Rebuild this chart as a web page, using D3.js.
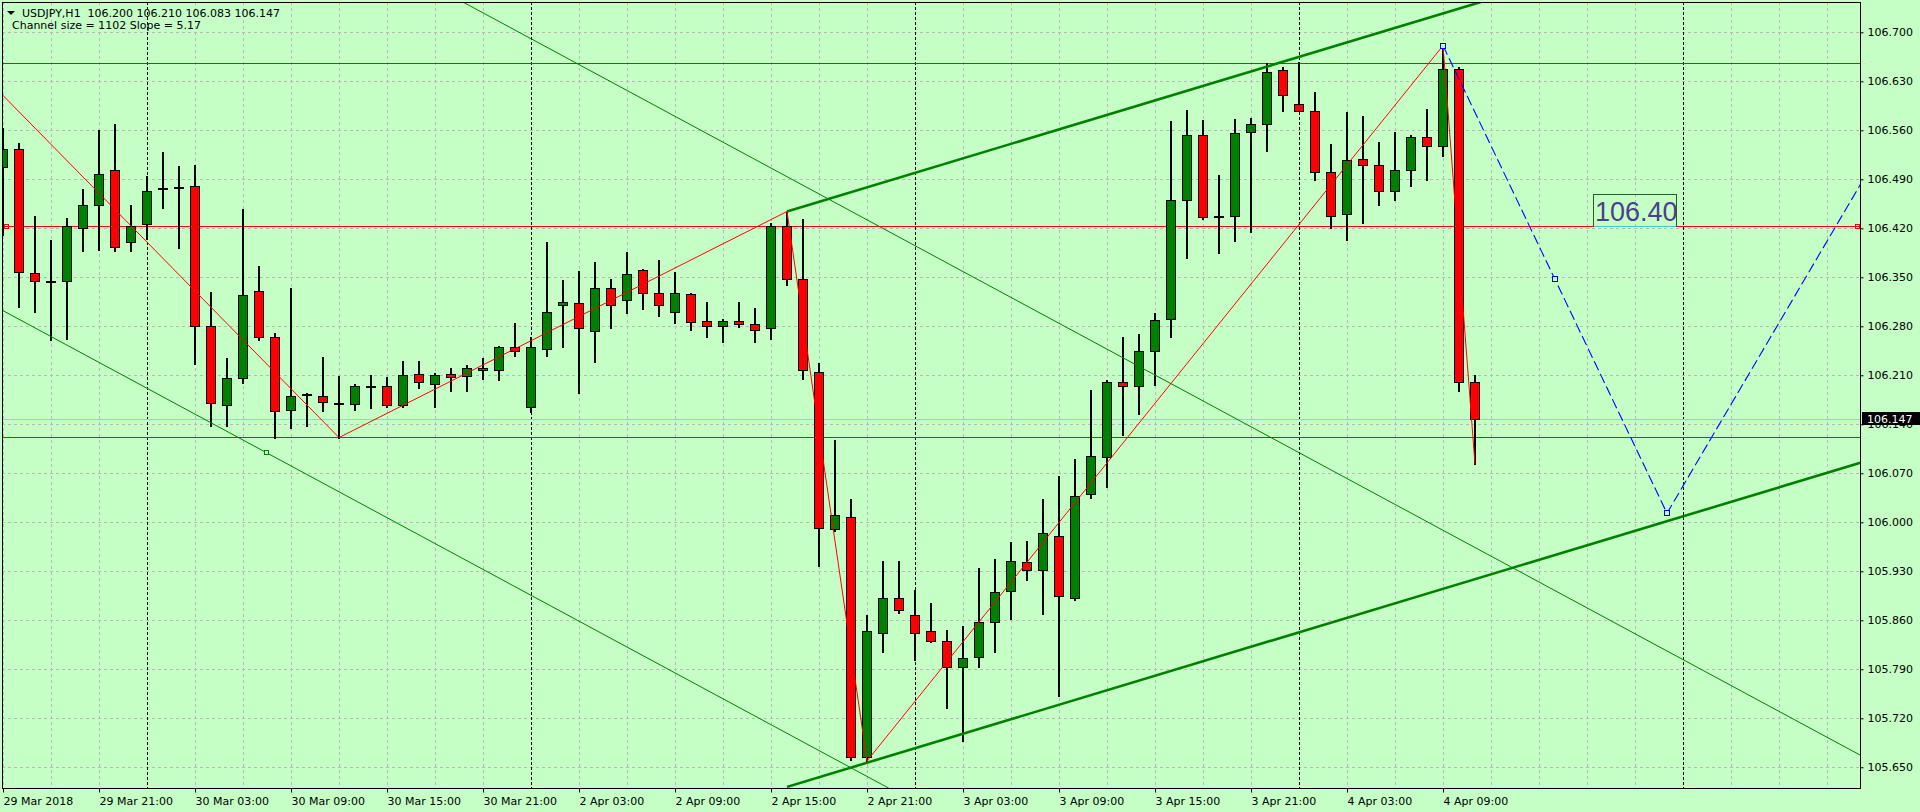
<!DOCTYPE html>
<html>
<head>
<meta charset="utf-8">
<script src="https://cdn.jsdelivr.net/npm/d3@7/dist/d3.min.js"></script>
<style>
  html, body { margin: 0; padding: 0; background: #c5ffc5; overflow: hidden; }
  svg { display: block; }
</style>
</head>
<body>
<div id="chart"></div>
<script>
// USDJPY H1 candles, bar 0 = 29 Mar 15:00, one bar per hour
var opens = [106.507,106.534,106.356,106.345,106.344,106.420,106.454,106.504,106.401,106.426,
  106.477,106.478,106.481,106.280,106.167,106.206,106.331,106.264,106.161,106.182,
  106.180,106.170,106.169,106.194,106.194,106.167,106.212,106.197,106.212,106.209,
  106.220,106.217,106.250,106.164,106.247,106.311,106.313,106.273,106.334,106.317,
  106.360,106.327,106.300,106.326,106.287,106.280,106.287,106.283,106.277,106.424,
  106.347,106.214,105.990,106.008,105.664,105.842,105.892,105.868,105.845,105.831,
  105.793,105.807,105.858,105.902,105.943,105.932,105.981,105.892,106.040,106.093,
  106.200,106.194,106.244,106.291,106.460,106.553,106.437,106.437,106.557,106.569,
  106.646,106.597,106.587,106.501,106.441,106.519,106.510,106.474,106.504,106.551,
  106.537,106.647,106.200];
var highs = [106.563,106.542,106.438,106.403,106.435,106.476,106.560,106.569,106.453,106.495,
  106.529,106.509,106.510,106.329,106.234,106.448,106.366,106.270,106.334,106.184,
  106.236,106.209,106.197,106.210,106.208,106.230,106.230,106.213,106.220,106.224,
  106.235,106.252,106.285,106.265,106.401,106.346,106.359,106.372,106.348,106.386,
  106.362,106.375,106.358,106.327,106.315,106.291,106.315,106.306,106.427,106.444,
  106.434,106.228,106.118,106.033,105.868,105.945,105.945,105.903,105.884,105.846,
  105.852,105.935,105.947,105.972,105.973,106.033,106.066,106.090,106.189,106.203,
  106.264,106.269,106.299,106.573,106.589,106.575,106.496,106.576,106.578,106.656,
  106.650,106.657,106.615,106.541,106.586,106.581,106.543,106.557,106.554,106.591,
  106.681,106.650,106.210];
var lows = [106.410,106.308,106.301,106.260,106.262,106.388,106.389,106.387,106.387,106.405,
  106.449,106.392,106.226,106.137,106.137,106.199,106.260,106.121,106.134,106.137,
  106.159,106.121,106.161,106.163,106.165,106.165,106.192,106.164,106.188,106.188,
  106.205,106.203,106.237,106.157,106.238,106.251,106.184,106.229,106.277,106.299,
  106.304,106.295,106.284,106.275,106.264,106.257,106.279,106.258,106.262,106.339,
  106.204,105.937,105.988,105.661,105.659,105.815,105.871,105.803,105.829,105.734,
  105.687,105.793,105.815,105.862,105.918,105.869,105.752,105.889,106.034,106.051,
  106.124,106.154,106.196,106.264,106.377,106.433,106.385,106.402,106.415,106.531,
  106.587,106.587,106.489,106.420,106.404,106.427,106.454,106.460,106.481,106.489,
  106.524,106.187,106.083];
var closes = [106.534,106.357,106.344,106.344,106.424,106.453,106.497,106.394,106.424,106.474,
  106.476,106.479,106.281,106.170,106.206,106.325,106.265,106.159,106.180,106.183,
  106.172,106.169,106.194,106.195,106.167,106.210,106.201,106.210,106.207,106.220,
  106.217,106.250,106.244,106.250,106.300,106.315,106.277,106.334,106.311,106.354,
  106.327,106.311,106.327,106.286,106.280,106.287,106.283,106.274,106.424,106.347,
  106.217,105.992,106.010,105.664,105.844,105.892,105.875,105.842,105.831,105.793,
  105.806,105.858,105.901,105.944,105.932,105.984,105.895,106.038,106.094,106.200,
  106.194,106.245,106.289,106.460,106.554,106.436,106.437,106.556,106.569,106.644,
  106.611,106.587,106.500,106.437,106.517,106.510,106.474,106.504,106.551,106.537,
  106.647,106.201,106.147];

// axis labels
var priceTicks = [105.650,105.720,105.790,105.860,105.930,106.000,106.070,106.140,
  106.210,106.280,106.350,106.420,106.490,106.560,106.630,106.700];
var timeLabels = ["29 Mar 2018","29 Mar 21:00","30 Mar 03:00","30 Mar 09:00","30 Mar 15:00",
  "30 Mar 21:00","2 Apr 03:00","2 Apr 09:00","2 Apr 15:00","2 Apr 21:00","3 Apr 03:00",
  "3 Apr 09:00","3 Apr 15:00","3 Apr 21:00","4 Apr 03:00","4 Apr 09:00"];
var dayStartBars = [9, 33, 57, 81, 105];

// objects drawn on the chart (bar index, price)
var hLevels = [106.656, 106.423, 106.122];
var zigzagBars = [-1, 21, 49, 54, 90, 92];
var zigzagPrices = [106.633, 106.121, 106.444, 105.659, 106.681, 106.083];
var projBars = [90, 97, 104, 117];
var projPrices = [106.681, 106.347, 106.013, 106.518];
var chanBars = [49, 130];
var chanUpper = [106.444, 107.003];
var chanLower = [105.622, 106.181];
var downBarsA = [20, 120];
var downPricesA = [106.851, 105.619];
var downBarsB = [-2, 60];
var downPricesB = [106.327, 105.563];
var markerB = [16.5, 106.099];
var lastPrice = 106.147;
var targetLabel = "106.40";

function drawChart() {
  var W = 1920, H = 812;
  var pLeft = 2, pRight = 1860, pTop = 2, pBottom = 788;
  var bg = "#c5ffc5";

  var svg = d3.select("#chart").append("svg")
      .attr("width", W)
      .attr("height", H)
      .style("font-family", "'DejaVu Sans', sans-serif");

  svg.append("rect").attr("width", W).attr("height", H).attr("fill", bg);

  var x = d3.scaleLinear().domain([-1 / 16, 1857 / 16]).range([pLeft, pRight]);
  var y = d3.scaleLinear().domain([105.6204, 106.7433]).range([pBottom, pTop]);

  function px(v) { return Math.round(v) + 0.5; }

  svg.append("clipPath").attr("id", "plotclip")
    .append("rect")
      .attr("x", pLeft + 1).attr("y", pTop + 1)
      .attr("width", pRight - pLeft - 1).attr("height", pBottom - pTop - 1);

  var plotG = svg.append("g").attr("clip-path", "url(#plotclip)");

  // grid
  var gridBars = d3.range(0, 117, 3).filter(function(b){ return dayStartBars.indexOf(b) < 0; });
  plotG.selectAll(".vgrid").data(gridBars).enter().append("line")
      .attr("x1", function(d){ return px(x(d)); })
      .attr("x2", function(d){ return px(x(d)); })
      .attr("y1", pTop).attr("y2", pBottom)
      .attr("stroke", "#b9b9b9")
      .attr("stroke-dasharray", "3,3")
      .attr("shape-rendering", "crispEdges");

  plotG.selectAll(".hgrid").data(priceTicks).enter().append("line")
      .attr("x1", pLeft).attr("x2", pRight)
      .attr("y1", function(d){ return px(y(d)); })
      .attr("y2", function(d){ return px(y(d)); })
      .attr("stroke", "#b9b9b9")
      .attr("stroke-dasharray", "3,3")
      .attr("shape-rendering", "crispEdges");

  // day separators
  plotG.selectAll(".sep").data(dayStartBars).enter().append("line")
      .attr("x1", function(d){ return px(x(d)); })
      .attr("x2", function(d){ return px(x(d)); })
      .attr("y1", pTop).attr("y2", pBottom)
      .attr("stroke", "#000")
      .attr("stroke-dasharray", "3,2")
      .attr("shape-rendering", "crispEdges");

  // bid line
  plotG.append("line")
      .attr("x1", pLeft).attr("x2", pRight)
      .attr("y1", px(y(lastPrice))).attr("y2", px(y(lastPrice)))
      .attr("stroke", "#c0c0c0")
      .attr("shape-rendering", "crispEdges");

  // horizontal levels
  plotG.selectAll(".level").data(hLevels).enter().append("line")
      .attr("x1", pLeft).attr("x2", pRight)
      .attr("y1", function(d){ return px(y(d)); })
      .attr("y2", function(d){ return px(y(d)); })
      .attr("stroke", "#ff0000")
      .attr("shape-rendering", "crispEdges");

  // candles
  var bars = d3.range(opens.length);
  var candle = plotG.selectAll(".candle").data(bars).enter().append("g");
  candle.append("line")
      .attr("x1", function(i){ return px(x(i)) - 0.5; })
      .attr("x2", function(i){ return px(x(i)) - 0.5; })
      .attr("y1", function(i){ return Math.round(y(highs[i])); })
      .attr("y2", function(i){ return Math.round(y(lows[i])) + 1; })
      .attr("stroke", "#000")
      .attr("stroke-width", 1.3)
      .attr("shape-rendering", "crispEdges");
  candle.append("rect")
      .attr("x", function(i){ return Math.round(x(i)) - 4.5; })
      .attr("width", 9)
      .attr("y", function(i){ return px(y(Math.max(opens[i], closes[i]))); })
      .attr("height", function(i){
        return Math.max(1, Math.round(y(Math.min(opens[i], closes[i]))) - Math.round(y(Math.max(opens[i], closes[i]))));
      })
      .attr("fill", function(i){ return closes[i] >= opens[i] ? "#008000" : "#ff0000"; })
      .attr("stroke", "#000")
      .attr("stroke-width", 1.2)
      .attr("shape-rendering", "crispEdges");

  function seg(b, p) {
    return d3.line().x(function(d){ return x(d[0]); }).y(function(d){ return y(d[1]); })(d3.zip(b, p));
  }

  // descending thin channel
  plotG.append("path").attr("d", seg(downBarsA, downPricesA))
      .attr("fill", "none").attr("stroke", "#008000").attr("stroke-width", 1);
  plotG.append("path").attr("d", seg(downBarsB, downPricesB))
      .attr("fill", "none").attr("stroke", "#008000").attr("stroke-width", 1);
  plotG.append("rect")
      .attr("x", Math.round(x(markerB[0])) - 2.5).attr("y", Math.round(y(markerB[1])) - 2.5)
      .attr("width", 4).attr("height", 4)
      .attr("fill", bg).attr("stroke", "#008000");

  // rising channel
  plotG.append("path").attr("d", seg(chanBars, chanUpper))
      .attr("fill", "none").attr("stroke", "#008000").attr("stroke-width", 2.6);
  plotG.append("path").attr("d", seg(chanBars, chanLower))
      .attr("fill", "none").attr("stroke", "#008000").attr("stroke-width", 2.6);

  // zigzag
  plotG.append("path").attr("d", seg(zigzagBars, zigzagPrices))
      .attr("fill", "none").attr("stroke", "#ff0000").attr("stroke-width", 1);

  // projection
  plotG.append("path").attr("d", seg(projBars, projPrices))
      .attr("fill", "none").attr("stroke", "#0000ff").attr("stroke-width", 1.1)
      .attr("stroke-dasharray", "10,4");
  plotG.selectAll(".pmark").data(d3.range(3)).enter().append("rect")
      .attr("x", function(i){ return Math.round(x(projBars[i])) - 2.5; })
      .attr("y", function(i){ return Math.round(y(projPrices[i])) - 2.5; })
      .attr("width", 5).attr("height", 5)
      .attr("fill", bg).attr("stroke", "#0000ff");

  // level anchors
  [pLeft + 2, pRight - 5].forEach(function(xx){
    plotG.append("rect")
        .attr("x", xx + 0.5).attr("y", px(y(hLevels[1])) - 2)
        .attr("width", 4).attr("height", 4)
        .attr("fill", "none").attr("stroke", "#ff0000");
  });

  // price label box
  var lblY = px(y(hLevels[1]));
  plotG.append("rect")
      .attr("x", 1593.5).attr("y", lblY - 32)
      .attr("width", 83).attr("height", 32)
      .attr("fill", "none").attr("stroke", "#2b5a2b");
  plotG.append("line")
      .attr("x1", 1594).attr("x2", 1676)
      .attr("y1", lblY).attr("y2", lblY)
      .attr("stroke", "#40c8c8");
  plotG.append("text")
      .attr("x", 1595).attr("y", lblY - 6)
      .attr("font-family", "'Liberation Sans', Arial, sans-serif")
      .attr("font-size", "27px")
      .attr("fill", "#4b3f8c")
      .text(targetLabel);

  // border
  svg.append("rect")
      .attr("x", pLeft + 0.5).attr("y", pTop + 0.5)
      .attr("width", pRight - pLeft).attr("height", pBottom - pTop)
      .attr("fill", "none").attr("stroke", "#000")
      .attr("shape-rendering", "crispEdges");

  // price axis
  var yAxis = svg.append("g")
      .attr("transform", "translate(" + (pRight + 0.5) + ",0)")
      .call(d3.axisRight(y).tickValues(priceTicks).tickFormat(d3.format(".3f")).tickSize(3).tickPadding(4));
  yAxis.select(".domain").remove();
  yAxis.selectAll("text")
      .attr("font-family", "'DejaVu Sans', sans-serif")
      .attr("font-size", "11px")
      .attr("fill", "#000");
  yAxis.selectAll("line").attr("stroke", "#000");

  // time axis
  var xAxis = svg.append("g")
      .attr("transform", "translate(0," + (pBottom + 0.5) + ")")
      .call(d3.axisBottom(x).tickValues(d3.range(timeLabels.length).map(function(i){ return i * 6; }))
        .tickFormat(function(d){ return timeLabels[d / 6]; }).tickSize(4).tickPadding(5));
  xAxis.select(".domain").remove();
  xAxis.selectAll("text")
      .attr("text-anchor", "start")
      .attr("font-family", "'DejaVu Sans', sans-serif")
      .attr("font-size", "11px")
      .attr("fill", "#000");
  xAxis.selectAll("line").attr("stroke", "#000");

  // last price tag
  var lp = y(lastPrice);
  svg.append("rect")
      .attr("x", 1862).attr("y", Math.round(lp) - 7)
      .attr("width", 58).attr("height", 13)
      .attr("fill", "#000");
  svg.append("text")
      .attr("x", 1867).attr("y", Math.round(lp) + 4)
      .attr("font-size", "11px")
      .attr("fill", "#fff")
      .text(d3.format(".3f")(lastPrice));

  // header
  svg.append("path").attr("d", "M7,11 L15,11 L11,15 Z").attr("fill", "#000");
  svg.append("text")
      .attr("x", 22).attr("y", 17)
      .attr("font-size", "11px")
      .style("white-space", "pre")
      .text("USDJPY,H1  " + [opens[92], highs[92], lows[92], closes[92]].map(d3.format(".3f")).join(" "));
  svg.append("text")
      .attr("x", 12).attr("y", 29)
      .attr("font-size", "11px")
      .text("Channel size = 1102 Slope = 5.17");
}

drawChart();
</script>
</body>
</html>
